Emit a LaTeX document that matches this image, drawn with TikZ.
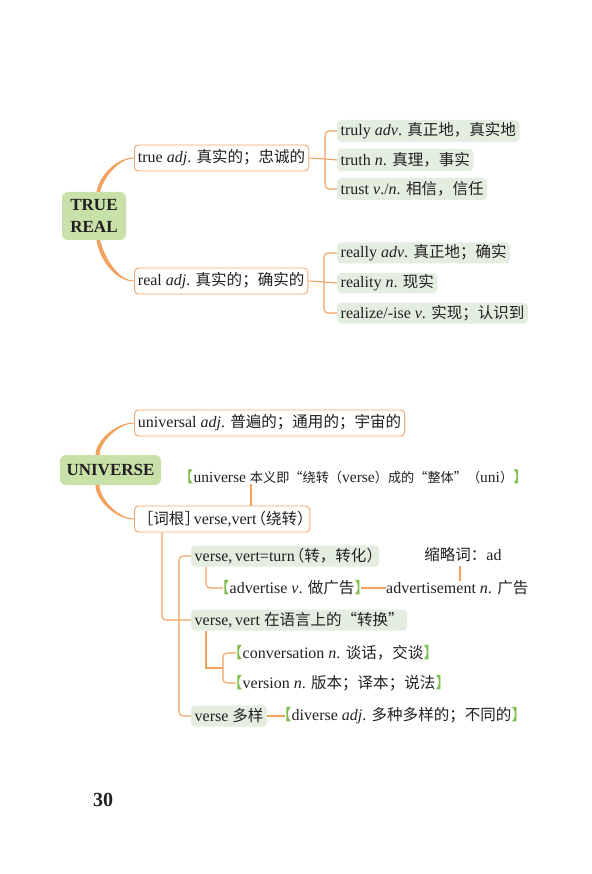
\documentclass[tikz,border=0pt]{standalone}
\usepackage{fontspec}
\setmainfont{Liberation Serif}
\newfontfamily\cjk[Scale=0.97]{Noto Sans CJK SC}
\newfontfamily\cjksmall[Scale=0.85]{Noto Sans CJK SC}
\newcommand\zh[1]{{\cjk #1}}
\newcommand\zhs[1]{{\cjksmall #1}}
\definecolor{ol}{HTML}{F2A25F}
\definecolor{ob}{HTML}{F3A66B}
\definecolor{mg}{HTML}{C8E1A9}
\definecolor{lg}{HTML}{E3EEE1}
\definecolor{gbr}{HTML}{7BBE4B}
\definecolor{txt}{HTML}{231F20}
% green lenticular brackets, trimmed to their ink
\newcommand\gbl{{\color{gbr}\cjk\makebox[0.42em][r]{【}}}
\newcommand\gbr{{\color{gbr}\cjk\makebox[0.42em][l]{】}}}
% narrowed opening / closing CJK punctuation
\newcommand\hopen[1]{{\cjk\makebox[0.62em][r]{#1}}}
\newcommand\hclose[1]{{\cjk\makebox[0.6em][l]{#1}}}
\begin{document}
\begin{tikzpicture}[x=1pt,y=-1pt,
  every node/.style={font=\fontsize{16}{18}\selectfont, text=txt},
  obox/.style={draw=ob, line width=0.9pt, rounded corners=4pt, fill=white, inner xsep=3.5pt, inner ysep=0pt, minimum height=26pt, anchor=west},
  gbox/.style={fill=lg, rounded corners=4pt, inner xsep=3.5pt, inner ysep=0pt, minimum height=21pt, anchor=west},
  mainbox/.style={fill=mg, rounded corners=6pt, inner sep=0pt, font=\fontsize{17}{22}\selectfont\bfseries, align=center},
  plain/.style={inner sep=0pt, anchor=west},
  link/.style={draw=ol, line width=1.1pt},
  rlink/.style={link, rounded corners=4pt},
]
\useasboundingbox (0,0) rectangle (591,874);

% ---------- TRUE / REAL ----------
\node[mainbox, minimum width=64pt, minimum height=48pt] (tr) at (94,216) {TRUE\\REAL};
\node[obox] (true) at (134,158) {true \textit{adj}. \zh{真实的；忠诚的}};
\node[gbox, minimum height=22pt] (truly) at (337,131) {truly \textit{adv}. \zh{真正地，真实地}};
\node[gbox, minimum height=22pt] (truth) at (337,160) {truth \textit{n}. \zh{真理，事实}};
\node[gbox, minimum height=22pt] (trust) at (337,189) {trust \textit{v}./\textit{n}. \zh{相信，信任}};
\node[obox] (real) at (134,281) {real \textit{adj}. \zh{真实的；确实的}};
\node[gbox] (really) at (337,253) {really \textit{adv}. \zh{真正地；确实}};
\node[gbox, minimum height=20pt] (reality) at (337,283) {reality \textit{n}. \zh{现实}};
\node[gbox] (realize) at (337,313) {realize/-ise \textit{v}. \zh{实现；认识到}};

\fill[ol] ([xshift=2.5pt]tr.north) .. controls +(3,-17) and +(-17,0) .. ([yshift=0.5pt]true.west)
  -- ([yshift=-0.5pt]true.west) .. controls +(-15,0) and +(4,-15) .. ([xshift=6pt]tr.north) -- cycle;
\fill[ol] ([xshift=2.5pt]tr.south) .. controls +(3,20) and +(-18,0) .. ([yshift=-0.5pt]real.west)
  -- ([yshift=0.5pt]real.west) .. controls +(-16,0) and +(5,18) .. ([xshift=6pt]tr.south) -- cycle;

\coordinate (b1) at (325,159);
\draw[link] (true.east) -- (b1) -- (truth.west);
\draw[rlink] (truly.west) -| (b1) |- (trust.west);
\coordinate (b2) at (324,282);
\draw[link] (real.east) -- (b2) -- (reality.west);
\draw[rlink] (really.west) -| (b2) |- (realize.west);

% ---------- UNIVERSE ----------
\node[mainbox, minimum width=101pt, minimum height=30pt] (uni) at (110.5,470) {UNIVERSE};
\node[obox] (universal) at (134,423) {universal \textit{adj}. \zh{普遍的；通用的；宇宙的}};
\node[plain, font=\fontsize{15.5}{18}\selectfont] (note) at (187,477) {\gbl universe \zhs{本义即“绕转（}verse\zhs{）成的“整体”（}uni\zhs{）}\gbr};
\node[obox] (cigen) at (134,519) {\zh{［词根}\hclose{］}verse,vert\hopen{（}\zh{绕转}\hclose{）}};

\fill[ol] ([xshift=-15pt]uni.north) .. controls +(0,-14) and +(-18,0) .. ([yshift=0.5pt]universal.west)
  -- ([yshift=-0.5pt]universal.west) .. controls +(-16,0) and +(0,-12) .. ([xshift=-11pt]uni.north) -- cycle;
\fill[ol] ([xshift=-15pt]uni.south) .. controls +(0,15) and +(-18,0) .. ([yshift=-0.5pt]cigen.west)
  -- ([yshift=0.5pt]cigen.west) .. controls +(-16,0) and +(0,13) .. ([xshift=-11pt]uni.south) -- cycle;

\coordinate (c1) at (251,0);
\draw[link] (note.south -| c1) -- (cigen.north -| c1);

\node[gbox] (turn) at (191,556) {verse,\,vert=turn\hopen{（}\zh{转，转化}\hclose{）}};
\node (abbr) at (463,555) {\zh{缩略词：}ad};
\node[plain] (advertise) at (223,588) {\gbl advertise \textit{v}. \zh{做广告}\gbr};
\node[plain] (advertisement) at (386,588) {advertisement \textit{n}. \zh{广告}};
\node[gbox] (lang) at (191,620) {verse,\,vert \zh{在语言上的“转换”}};
\node[plain] (conversation) at (236,653) {\gbl conversation \textit{n}. \zh{谈话，交谈}\gbr};
\node[plain] (version) at (236,683) {\gbl version \textit{n}. \zh{版本；译本；说法}\gbr};
\node[gbox] (duoyang) at (191,716) {verse \zh{多样}};
\node[plain] (diverse) at (285,716) {\gbl diverse \textit{adj}. \zh{多种多样的；不同的}\gbr};

\coordinate (v1) at (162,0);
\draw[rlink] (cigen.south -| v1) |- (lang.west);
\coordinate (v2) at (179,636);
\draw[rlink] (turn.west) -| (v2) |- (duoyang.west);
\coordinate (v3) at (206,0);
\draw[rlink] (turn.south -| v3) |- (advertise.west);
\draw[link] (advertise.east) -- (advertisement.west);
\coordinate (v4) at (460,0);
\draw[link] (abbr.south -| v4) -- (advertisement.north -| v4);
\coordinate (b3) at (223,668);
\draw[link] (lang.south -| v3) |- (b3);
\draw[rlink] (conversation.west) -| (b3) |- (version.west);
\draw[link] (duoyang.east) -- (diverse.west);

\node[font=\fontsize{20}{22}\selectfont\bfseries] (page) at (103,800) {30};
\end{tikzpicture}
\end{document}
